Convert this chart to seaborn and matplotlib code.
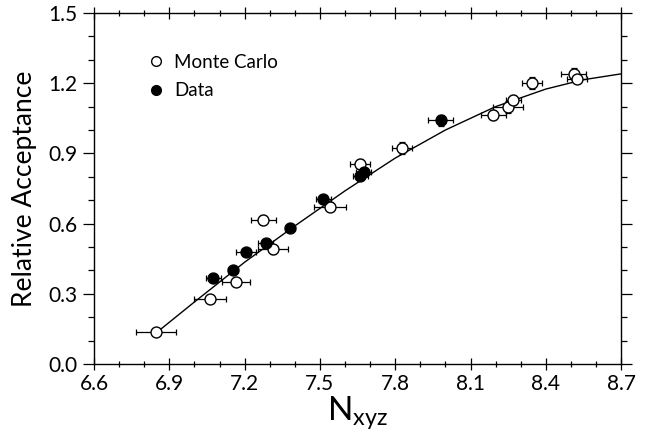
import numpy as np
import pandas as pd
import matplotlib
matplotlib.use("Agg")
import matplotlib.pyplot as plt
from matplotlib.lines import Line2D
from matplotlib.ticker import MultipleLocator
import seaborn as sns

# Monte Carlo (open circles)
mc_x = [6.847, 7.062, 7.166, 7.275, 7.314, 7.540, 7.660, 7.826, 8.191, 8.251, 8.270, 8.344, 8.512, 8.523]
mc_y = [0.138, 0.278, 0.352, 0.615, 0.490, 0.672, 0.855, 0.922, 1.064, 1.097, 1.128, 1.202, 1.239, 1.220]
mc_xerr = [0.080, 0.065, 0.055, 0.050, 0.060, 0.065, 0.040, 0.040, 0.050, 0.060, 0.030, 0.040, 0.050, 0.040]
mc_yerr = [0.010, 0.010, 0.015, 0.020, 0.020, 0.020, 0.020, 0.025, 0.020, 0.025, 0.020, 0.025, 0.025, 0.015]

# Measured data (filled circles)
data_x = [7.075, 7.152, 7.205, 7.285, 7.381, 7.514, 7.660, 7.675, 7.981]
data_y = [0.366, 0.402, 0.479, 0.516, 0.580, 0.704, 0.805, 0.822, 1.041]
data_xerr = [0.030, 0.020, 0.040, 0.030, 0.020, 0.030, 0.030, 0.030, 0.050]
data_yerr = [0.010, 0.010, 0.010, 0.015, 0.010, 0.010, 0.015, 0.015, 0.025]

# Fitted acceptance curve
fit_x = [6.85, 7.00, 7.20, 7.40, 7.60, 7.80, 8.00, 8.20, 8.40, 8.55, 8.70]
fit_y = [0.135, 0.265, 0.435, 0.590, 0.740, 0.880, 1.000, 1.100, 1.175, 1.215, 1.240]

x_ticks = [6.6, 6.9, 7.2, 7.5, 7.8, 8.1, 8.4, 8.7]
y_ticks = [0.0, 0.3, 0.6, 0.9, 1.2, 1.5]

sns.set_theme(style="ticks")
plt.rcParams["font.family"] = ["Lato", "DejaVu Sans"]
plt.rcParams["mathtext.default"] = "regular"
plt.rcParams["text.color"] = "black"
plt.rcParams["axes.labelcolor"] = "black"

fig = plt.figure(figsize=(6.47, 4.34), dpi=100)
ax = fig.add_axes([0.1453, 0.1613, 0.8147, 0.8087])

fit_df = pd.DataFrame({"x": fit_x, "y": fit_y})
sns.lineplot(data=fit_df, x="x", y="y", ax=ax, color="black", lw=1.0, zorder=2)

ax.errorbar(mc_x, mc_y, xerr=mc_xerr, yerr=mc_yerr, fmt="none", ecolor="black",
            elinewidth=0.9, capsize=2.5, capthick=0.9, zorder=3)
ax.errorbar(data_x, data_y, xerr=data_xerr, yerr=data_yerr, fmt="none", ecolor="black",
            elinewidth=0.9, capsize=2.5, capthick=0.9, zorder=3)

mc_df = pd.DataFrame({"x": mc_x, "y": mc_y})
data_df = pd.DataFrame({"x": data_x, "y": data_y})
sns.scatterplot(data=mc_df, x="x", y="y", ax=ax, marker="o", s=62,
                facecolor="white", edgecolor="black", linewidth=1.0, zorder=4)
sns.scatterplot(data=data_df, x="x", y="y", ax=ax, marker="o", s=62,
                color="black", edgecolor="black", linewidth=1.0, zorder=5)

ax.set_xlim(6.6, 8.7)
ax.set_ylim(0.0, 1.5)
ax.set_xticks(x_ticks)
ax.set_xticklabels([f"{v:.1f}" for v in x_ticks])
ax.set_yticks(y_ticks)
ax.set_yticklabels([f"{v:.1f}" for v in y_ticks])
ax.xaxis.set_minor_locator(MultipleLocator(0.1))
ax.yaxis.set_minor_locator(MultipleLocator(0.1))

for s in ax.spines.values():
    s.set_visible(True)
    s.set_linewidth(1.0)
    s.set_color("black")

ax.tick_params(axis="both", which="both", colors="black", labelcolor="black",
               width=0.9, labelsize=15)
ax.tick_params(axis="y", which="major", direction="out", length=8, left=True, right=True, pad=4)
ax.tick_params(axis="y", which="minor", direction="out", length=4, left=True, right=True)
ax.tick_params(axis="x", which="major", direction="inout", length=9, top=True, bottom=True, pad=3)
ax.tick_params(axis="x", which="minor", direction="inout", length=5, top=True, bottom=True)

ax.set_xlabel("N$_{xyz}$", fontsize=24, color="black", labelpad=0)
ax.set_ylabel("Relative Acceptance", fontsize=19, color="black", labelpad=8)

handles = [
    Line2D([], [], marker="o", ls="none", markersize=7, markerfacecolor="white",
           markeredgecolor="black", markeredgewidth=1.0, label="Monte Carlo"),
    Line2D([], [], marker="o", ls="none", markersize=7, markerfacecolor="black",
           markeredgecolor="black", label="Data"),
]
leg = ax.legend(handles=handles, loc="upper left", bbox_to_anchor=(0.085, 0.905),
                frameon=False, fontsize=13.5, handletextpad=0.5, labelspacing=0.6,
                handlelength=1.0, borderaxespad=0)
for t in leg.get_texts():
    t.set_color("black")

fig.savefig("out.png", dpi=100)
